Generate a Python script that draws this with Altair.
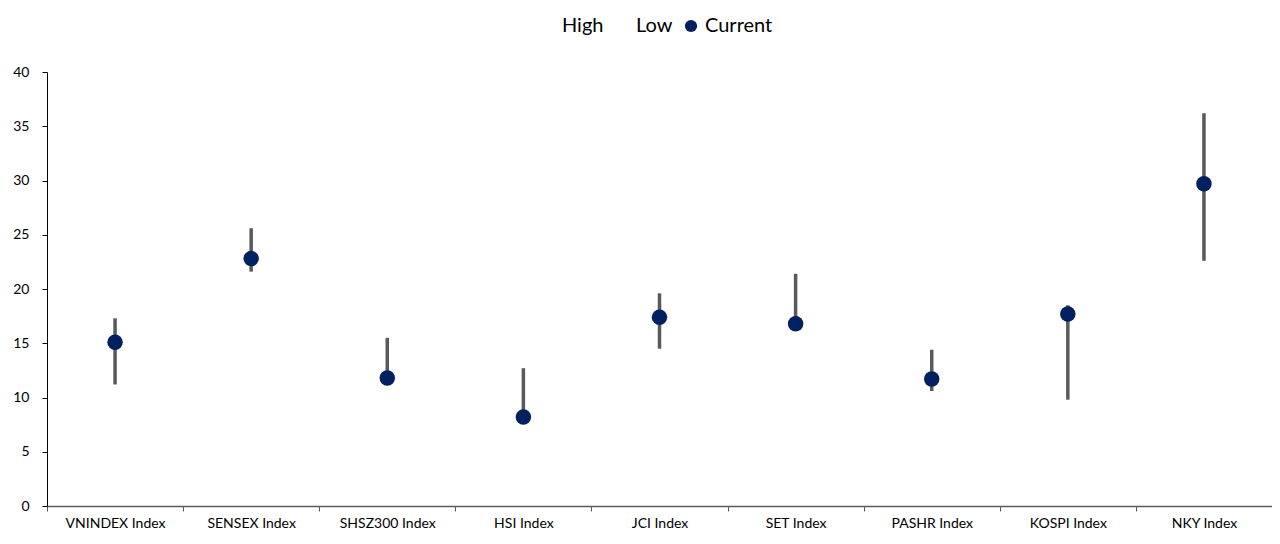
import altair as alt
import pandas as pd

names = ["VNINDEX Index", "SENSEX Index", "SHSZ300 Index", "HSI Index", "JCI Index",
         "SET Index", "PASHR Index", "KOSPI Index", "NKY Index"]
high = [17.3, 25.6, 15.5, 12.7, 19.6, 21.4, 14.4, 18.5, 36.2]
low = [11.2, 21.6, 11.8, 8.2, 14.5, 16.8, 10.6, 9.8, 22.6]
current = [15.1, 22.8, 11.8, 8.2, 17.4, 16.8, 11.7, 17.7, 29.7]

df = pd.DataFrame({"name": names, "high": high, "low": low, "current": current,
                   "series": ["Current"] * len(names)})

FONT = "Lato"

x = alt.X("name:N", sort=names, title=None,
          scale=alt.Scale(paddingInner=0, paddingOuter=0),
          axis=alt.Axis(labelAngle=0, labelFontSize=14, labelColor="#000000", labelFont=FONT,
                        tickBand="extent", tickSize=5, tickColor="#595959",
                        domainColor="#595959", domainWidth=1.5, labelPadding=5))
y_scale = alt.Scale(domain=[0, 40], nice=False)
y_axis = alt.Axis(values=[0, 5, 10, 15, 20, 25, 30, 35, 40], grid=False, title=None,
                  labelFontSize=14, labelColor="#000000", labelFont=FONT,
                  tickSize=5, tickColor="#000000", domainColor="#000000",
                  labelPadding=13)

rules = alt.Chart(df).mark_rule(color="#595959", strokeWidth=3.5).encode(
    x=x,
    y=alt.Y("low:Q", scale=y_scale, axis=y_axis),
    y2="high:Q",
)

points = alt.Chart(df).mark_circle(size=240, opacity=1).encode(
    x=x,
    y=alt.Y("current:Q", scale=y_scale, axis=y_axis),
    color=alt.Color("series:N",
                    scale=alt.Scale(domain=["High", "Low", "Current"],
                                    range=["transparent", "transparent", "#002060"]),
                    legend=alt.Legend(title=None, orient="none", direction="horizontal",
                                      legendX=491, legendY=-56, labelFontSize=20,
                                      labelFont=FONT, labelColor="#000000",
                                      symbolType="circle", symbolSize=150,
                                      symbolStrokeWidth=0, columnPadding=8,
                                      labelOffset=4)),
)

chart = alt.layer(rules, points).properties(
    width=1225, height=434,
    background="white",
    autosize=alt.AutoSizeParams(type="none"),
    padding={"left": 39, "top": 64, "right": 0, "bottom": 30},
).configure_view(stroke=None)

chart.save("out.html", embed_options={"renderer": "svg", "actions": False})
